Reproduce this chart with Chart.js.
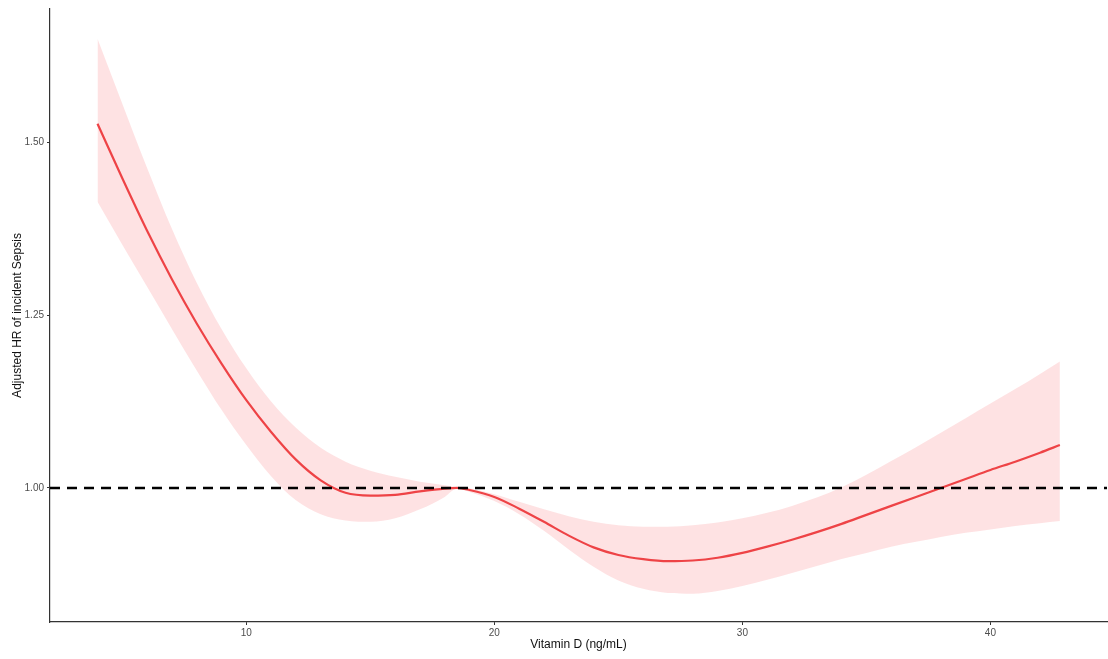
<!DOCTYPE html>
<html>
<head>
<meta charset="utf-8">
<script src="https://cdn.jsdelivr.net/npm/chart.js@4.4.1/dist/chart.umd.min.js"></script>
<style>
  html, body { margin: 0; padding: 0; background: #ffffff; }
  #wrap { width: 1108px; height: 659px; position: relative; }
</style>
</head>
<body>
<div id="wrap"><canvas id="c" width="1108" height="659"></canvas></div>
<script>
// Vitamin D (ng/mL)
const vitD = [4,5,6,7,8,9,10,11,12,13,14,15,16,17,18,18.5,19,20,21,22,23,24,25,26,27,28,29,30,31,32,33,34,35,36,37,38,39,40,41,42,42.8];
// Adjusted HR
const hr = [1.527,1.448,1.372,1.302,1.238,1.180,1.127,1.081,1.041,1.011,0.993,0.989,0.990,0.995,0.999,1.000,0.997,0.987,0.970,0.951,0.931,0.914,0.903,0.897,0.894,0.895,0.899,0.906,0.915,0.925,0.936,0.948,0.961,0.974,0.987,1.000,1.013,1.026,1.038,1.051,1.062];
// 95% CI
const upper = [1.650,1.556,1.463,1.375,1.297,1.230,1.173,1.125,1.087,1.058,1.038,1.025,1.016,1.009,1.004,1.001,0.999,0.991,0.980,0.969,0.959,0.951,0.946,0.944,0.944,0.946,0.950,0.956,0.964,0.974,0.986,1.001,1.019,1.039,1.059,1.080,1.101,1.122,1.143,1.165,1.183];
const lower = [1.414,1.352,1.291,1.230,1.170,1.113,1.062,1.017,0.982,0.962,0.953,0.951,0.956,0.969,0.987,0.999,0.994,0.981,0.962,0.938,0.911,0.886,0.866,0.854,0.848,0.847,0.851,0.858,0.867,0.877,0.887,0.897,0.906,0.915,0.922,0.929,0.935,0.940,0.945,0.949,0.952];
// Reference HR
const refHR = 1.0;
// Axis ranges and ticks
const xRange = [2.085, 44.7];
const yRange = [0.806, 1.693];
const xTicks = [10, 20, 30, 40];
const yTicks = [1.00, 1.25, 1.50];

const pts = (xs, ys) => xs.map((x, i) => ({x: x, y: ys[i]}));

const FONT = "'Liberation Sans', Arial, Helvetica, sans-serif";

new Chart(document.getElementById('c'), {
  type: 'line',
  data: {
    datasets: [
      {
        label: 'ref',
        data: [{x: xRange[0], y: refHR}, {x: xRange[1], y: refHR}],
        borderColor: '#000000',
        borderWidth: 2.6,
        borderDash: [10, 7],
        pointRadius: 0,
        fill: false,
        order: 0
      },
      {
        label: 'HR',
        data: pts(vitD, hr),
        borderColor: '#EE4346',
        borderWidth: 2.2,
        pointRadius: 0,
        cubicInterpolationMode: 'monotone',
        fill: false,
        order: 1
      },
      {
        label: 'upper',
        data: pts(vitD, upper),
        borderWidth: 0,
        borderColor: 'rgba(0,0,0,0)',
        backgroundColor: 'rgba(250,110,115,0.2)',
        pointRadius: 0,
        cubicInterpolationMode: 'monotone',
        fill: '+1',
        order: 2
      },
      {
        label: 'lower',
        data: pts(vitD, lower),
        borderWidth: 0,
        borderColor: 'rgba(0,0,0,0)',
        pointRadius: 0,
        cubicInterpolationMode: 'monotone',
        fill: false,
        order: 3
      }
    ]
  },
  options: {
    responsive: false,
    animation: false,
    events: [],
    layout: { padding: { top: 7, right: 1, left: 0, bottom: 0 } },
    plugins: {
      legend: { display: false },
      tooltip: { enabled: false },
      title: { display: false }
    },
    scales: {
      x: {
        type: 'linear',
        min: xRange[0],
        max: xRange[1],
        afterBuildTicks: (s) => { s.ticks = xTicks.map(v => ({value: v})); },
        afterFit: (s) => { s.height = 37; },
        grid: { drawOnChartArea: false, drawTicks: true, tickLength: 3, color: '#333333', lineWidth: 1 },
        border: { display: true, color: '#333333', width: 1.2 },
        ticks: {
          color: '#4D4D4D',
          font: { family: FONT, size: 10 },
          padding: 2,
          maxRotation: 0,
          callback: (v) => String(v)
        },
        title: {
          display: true,
          text: 'Vitamin D (ng/mL)',
          color: '#111111',
          font: { family: FONT, size: 12 },
          padding: { top: 0, bottom: 7 }
        }
      },
      y: {
        type: 'linear',
        min: yRange[0],
        max: yRange[1],
        afterBuildTicks: (s) => { s.ticks = yTicks.map(v => ({value: v})); },
        afterFit: (s) => { s.width = 50; },
        grid: { drawOnChartArea: false, drawTicks: true, tickLength: 3, color: '#333333', lineWidth: 1 },
        border: { display: true, color: '#333333', width: 1.2 },
        ticks: {
          color: '#4D4D4D',
          font: { family: FONT, size: 10 },
          padding: 3,
          callback: (v) => Number(v).toFixed(2)
        },
        title: {
          display: true,
          text: 'Adjusted HR of incident Sepsis',
          color: '#111111',
          font: { family: FONT, size: 12 },
          padding: { top: 10, bottom: 0 }
        }
      }
    }
  }
});
</script>
</body>
</html>
